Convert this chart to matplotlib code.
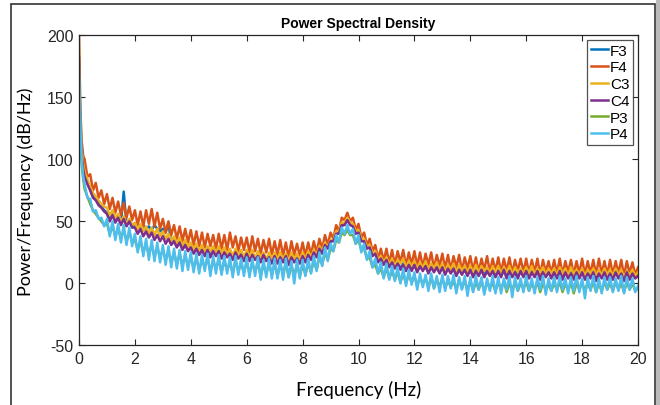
import numpy as np
import matplotlib
matplotlib.use("Agg")
import matplotlib.pyplot as plt
from matplotlib.patches import Rectangle

# frequency grid: a few points right at 0 Hz, then 0.1 Hz steps up to 20 Hz
freq = np.concatenate([[0, 0.05, 0.1, 0.15], np.arange(2, 201) / 10])

channels = ["F3", "F4", "C3", "C4", "P3", "P4"]
colors = ["#0072BD", "#D95319", "#EDB120", "#7E2F8E", "#77AC30", "#4DBEEE"]

# PSD values (dB/Hz), one row per Hz
psd_f3 = [160, 122, 103, 93, 87, 81, 76, 71, 68, 64, 62, 59,
          57, 51, 56, 50, 54, 48, 74, 47, 51, 46,
          46, 41, 45, 47, 44, 46, 43, 47, 44, 42,
          44, 41, 49, 32, 35, 30, 34, 28, 32, 27,
          29, 25, 28, 24, 27, 23, 28, 22, 27, 23,
          26, 21, 25, 22, 24, 20, 25, 21, 24, 19,
          24, 19, 23, 20, 22, 18, 23, 19, 22, 17,
          22, 17, 22, 18, 21, 16, 22, 18, 21, 17,
          22, 18, 23, 20, 25, 22, 28, 25, 31, 29,
          34, 35, 40, 41, 46, 48, 51, 48, 46, 41,
          41, 35, 34, 29, 29, 23, 25, 18, 21, 16,
          19, 14, 18, 13, 17, 12, 16, 11, 16, 11,
          15, 10, 15, 11, 14, 9, 14, 10, 13, 9,
          13, 8, 13, 9, 12, 7, 12, 8, 12, 7,
          12, 6, 11, 7, 12, 6, 11, 7, 11, 6,
          11, 6, 12, 5, 11, 6, 10, 5, 11, 6,
          11, 5, 10, 6, 11, 4, 10, 6, 10, 5,
          10, 5, 11, 4, 10, 5, 9, 4, 10, 5,
          10, 4, 9, 5, 10, 3, 9, 5, 10, 4,
          9, 4, 10, 5, 9, 3, 10, 4, 9, 5,
          7]

psd_f4 = [200, 138, 114, 103, 100, 86, 88, 75, 81, 69, 75, 64,
          72, 60, 69, 57, 66, 55, 65, 53, 62, 51,
          59, 47, 58, 46, 59, 48, 60, 46, 57, 44,
          52, 41, 50, 39, 47, 36, 46, 34, 44, 33,
          43, 31, 42, 30, 41, 29, 40, 30, 39, 28,
          40, 28, 39, 27, 41, 29, 38, 26, 37, 27,
          37, 25, 38, 26, 36, 24, 35, 25, 36, 23,
          34, 23, 35, 22, 33, 21, 34, 23, 32, 22,
          33, 22, 33, 23, 34, 25, 36, 28, 39, 31,
          41, 36, 47, 42, 53, 51, 57, 50, 53, 43,
          48, 37, 41, 31, 36, 26, 31, 20, 28, 18,
          28, 16, 27, 15, 26, 17, 27, 14, 25, 15,
          26, 14, 25, 13, 24, 15, 25, 12, 23, 14,
          24, 12, 23, 11, 22, 13, 23, 10, 21, 12,
          22, 10, 21, 9, 20, 11, 22, 9, 20, 10,
          21, 9, 20, 10, 21, 8, 19, 10, 20, 9,
          20, 8, 19, 9, 20, 7, 19, 9, 18, 8,
          19, 8, 20, 7, 18, 9, 19, 7, 18, 8,
          20, 7, 18, 8, 19, 7, 20, 8, 18, 7,
          19, 7, 18, 8, 19, 6, 18, 8, 17, 7,
          13]

psd_c3 = [190, 128, 106, 96, 90, 84, 78, 73, 70, 67, 64, 62,
          61, 55, 59, 53, 56, 50, 54, 48, 52, 47,
          49, 43, 48, 42, 46, 40, 45, 39, 44, 38,
          42, 36, 40, 34, 38, 32, 37, 30, 35, 29,
          33, 27, 32, 26, 31, 25, 30, 26, 30, 24,
          30, 24, 29, 23, 28, 22, 28, 23, 27, 21,
          27, 21, 27, 20, 26, 21, 25, 19, 25, 20,
          25, 19, 25, 20, 24, 18, 25, 19, 24, 19,
          25, 20, 26, 21, 27, 23, 30, 26, 33, 29,
          35, 35, 42, 42, 49, 49, 53, 49, 48, 42,
          43, 36, 36, 30, 31, 24, 26, 19, 22, 17,
          21, 15, 20, 14, 19, 16, 20, 13, 18, 14,
          18, 12, 17, 12, 18, 11, 16, 12, 17, 11,
          16, 10, 15, 11, 16, 9, 15, 10, 14, 9,
          14, 9, 15, 8, 14, 10, 13, 8, 14, 9,
          14, 8, 13, 9, 14, 7, 13, 9, 12, 8,
          13, 8, 14, 7, 12, 9, 13, 7, 12, 8,
          12, 7, 13, 8, 12, 6, 13, 8, 11, 7,
          12, 6, 11, 8, 12, 7, 11, 6, 12, 7,
          11, 6, 12, 7, 11, 5, 10, 7, 11, 6,
          9]

psd_c4 = [182, 124, 102, 92, 86, 80, 75, 69, 67, 63, 61, 58,
          56, 50, 55, 49, 53, 47, 52, 46, 50, 45,
          45, 40, 44, 38, 42, 37, 41, 35, 39, 34,
          38, 32, 36, 31, 34, 29, 33, 27, 31, 26,
          29, 24, 28, 23, 27, 22, 27, 21, 26, 22,
          26, 20, 25, 21, 24, 19, 25, 20, 23, 18,
          24, 18, 23, 19, 22, 17, 23, 18, 21, 16,
          22, 16, 21, 17, 22, 15, 21, 17, 20, 16,
          22, 17, 23, 19, 25, 21, 28, 24, 31, 28,
          34, 34, 40, 40, 47, 47, 51, 47, 46, 40,
          41, 34, 34, 28, 29, 22, 24, 17, 20, 15,
          19, 13, 17, 12, 16, 11, 15, 10, 15, 10,
          15, 9, 14, 10, 14, 8, 13, 9, 13, 8,
          13, 7, 12, 8, 12, 6, 11, 7, 11, 6,
          11, 5, 10, 6, 11, 5, 10, 6, 10, 5,
          10, 5, 11, 4, 10, 5, 9, 4, 10, 5,
          10, 4, 9, 5, 10, 3, 9, 5, 9, 4,
          9, 4, 10, 3, 9, 4, 8, 3, 9, 4,
          9, 3, 8, 4, 9, 2, 8, 4, 9, 3,
          8, 3, 9, 4, 8, 2, 9, 3, 8, 4,
          6]

psd_p3 = [172, 118, 95, 84, 76, 70, 64, 59, 56, 53, 50, 47,
          48, 40, 46, 38, 45, 36, 43, 34, 42, 33,
          35, 27, 34, 25, 32, 23, 31, 22, 29, 21,
          27, 19, 26, 17, 25, 15, 24, 15, 22, 14,
          21, 12, 20, 11, 19, 13, 20, 10, 18, 12,
          19, 9, 18, 11, 17, 8, 18, 10, 16, 9,
          17, 8, 16, 9, 17, 6, 15, 8, 16, 7,
          16, 6, 15, 8, 16, 5, 14, 7, 15, 6,
          15, 7, 16, 9, 18, 11, 21, 15, 25, 19,
          28, 26, 35, 33, 41, 39, 43, 39, 39, 32,
          35, 27, 28, 20, 21, 13, 15, 8, 12, 5,
          12, 4, 10, 3, 9, 1, 8, 0, 7, 1,
          6, -2, 5, -1, 4, -3, 5, -4, 3, -2,
          4, -4, 3, -3, 2, -5, 3, -4, 2, -5,
          2, -6, 1, -5, 2, -7, 1, -4, 0, -6,
          1, -5, 2, -7, 0, -5, 1, -6, 0, -4,
          1, -6, 0, -5, 1, -7, 0, -5, -1, -6,
          0, -5, 1, -7, 0, -6, 1, -8, 0, -5,
          1, -6, 0, -5, 1, -7, 0, -6, 1, -5,
          0, -6, 1, -5, 0, -7, 1, -5, 0, -6,
          -4]

psd_p4 = [165, 125, 98, 86, 80, 69, 68, 58, 59, 52, 53, 46,
          52, 38, 50, 35, 48, 33, 47, 31, 45, 30,
          40, 25, 38, 22, 36, 19, 35, 18, 33, 17,
          31, 15, 30, 13, 28, 12, 27, 10, 26, 11,
          25, 9, 24, 8, 23, 10, 24, 6, 22, 8,
          23, 7, 22, 8, 21, 5, 22, 7, 20, 6,
          21, 5, 20, 6, 21, 3, 19, 5, 20, 4,
          20, 4, 19, 3, 20, 5, 18, 0, 19, 4,
          19, 6, 20, 8, 22, 10, 25, 14, 29, 18,
          32, 26, 39, 33, 45, 40, 47, 40, 44, 32,
          39, 25, 32, 19, 26, 13, 20, 8, 17, 4,
          16, 3, 14, 2, 13, 0, 12, -2, 11, -1,
          9, -5, 8, -3, 7, -6, 8, -4, 6, -7,
          7, -6, 6, -4, 7, -8, 5, -5, 6, -10,
          5, -7, 6, -5, 5, -9, 4, -6, 6, -8,
          5, -8, 4, -5, 6, -11, 5, -6, 4, -7,
          6, -6, 4, -8, 5, -5, 6, -9, 4, -6,
          5, -7, 6, -5, 4, -8, 5, -6, 6, -7,
          4, -12, 5, -6, 6, -7, 4, -8, 5, -5,
          5, -7, 4, -6, 6, -8, 5, -5, 4, -7,
          -2]

series = [psd_f3, psd_f4, psd_c3, psd_c4, psd_p3, psd_p4]

plt.rcParams["font.family"] = ["Liberation Sans", "DejaVu Sans"]
plt.rcParams["axes.unicode_minus"] = False
dark = "#262626"

fig = plt.figure(figsize=(6.6, 4.06), dpi=100)
ax = fig.add_axes([0.1197, 0.1466, 0.8470, 0.7640])

for vals, name, c in zip(series, channels, colors):
    ax.plot(freq, vals, color=c, lw=1.8, label=name)

ax.set_xlim(0, 20)
ax.set_ylim(-50, 200)
ax.set_xticks(np.arange(0, 21, 2))
ax.set_yticks([-50, 0, 50, 100, 150, 200])
ax.tick_params(direction="in", top=True, right=True, length=4, width=0.8,
               labelsize=11.5, colors=dark, pad=4)
for s in ax.spines.values():
    s.set_color(dark)
    s.set_linewidth(0.9)

ax.set_title("Power Spectral Density", fontsize=10, fontweight="bold", color="black", pad=6)
ax.set_xlabel("Frequency (Hz)", fontsize=13.5, family=["Lato", "DejaVu Sans"], color="black", labelpad=10)
ax.set_ylabel("Power/Frequency (dB/Hz)", fontsize=13, family=["Lato", "DejaVu Sans"], color="black", labelpad=9)

leg = ax.legend(loc="upper right", fontsize=11, frameon=True, fancybox=False,
                handlelength=1.1, handletextpad=0.15, borderpad=0.25, labelspacing=0.18,
                borderaxespad=0.3)
leg.get_frame().set_edgecolor(dark)
leg.get_frame().set_linewidth(0.9)

# outer frame of the screenshot
fig.patches.append(Rectangle((11 / 660, -0.05), 644 / 660, 1.05 - 5 / 406, transform=fig.transFigure,
                             fill=False, edgecolor="#333333", lw=1.2))
fig.patches.append(Rectangle((656 / 660, 0), 4 / 660, 1, transform=fig.transFigure,
                             facecolor="#bbbbbb", edgecolor="none"))

fig.savefig("out.png", dpi=100)
